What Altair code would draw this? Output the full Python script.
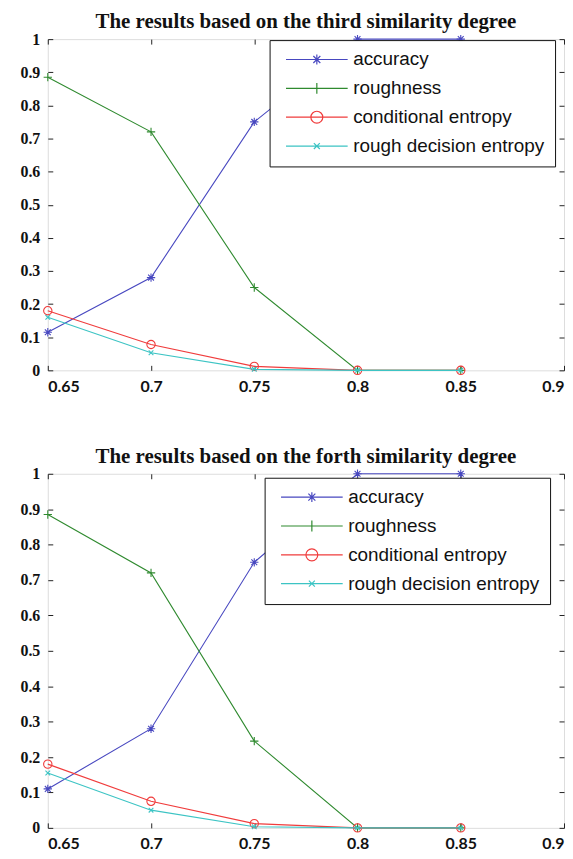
import altair as alt
import pandas as pd

# ---------------- data ----------------
x_vals = [0.65, 0.70, 0.75, 0.80, 0.85]
series = ["accuracy", "roughness", "conditional entropy", "rough decision entropy"]
colors = ["#4848c0", "#2f8a2f", "#f03c3c", "#3cc4c4"]

p1_accuracy = [0.115, 0.28, 0.75, 1.0, 1.0]
p1_roughness = [0.885, 0.72, 0.25, 0.0, 0.0]
p1_cond = [0.18, 0.078, 0.012, 0.0, 0.0]
p1_rde = [0.16, 0.053, 0.003, 0.0, 0.0]

p2_accuracy = [0.11, 0.28, 0.75, 1.0, 1.0]
p2_roughness = [0.885, 0.72, 0.245, 0.0, 0.0]
p2_cond = [0.18, 0.075, 0.012, 0.0, 0.0]
p2_rde = [0.155, 0.05, 0.003, 0.0, 0.0]

titles = ["The results based on the third similarity degree",
          "The results based on the forth similarity degree"]
x_ticks = [0.65, 0.7, 0.75, 0.8, 0.85, 0.9]
y_ticks = [0, 0.1, 0.2, 0.3, 0.4, 0.5, 0.6, 0.7, 0.8, 0.9, 1.0]

# marker shapes (unit square -1..1)
ASTER = "M0,-1L0,1M-1,0L1,0M-0.7,-0.7L0.7,0.7M-0.7,0.7L0.7,-0.7"
PLUS = "M0,-1L0,1M-1,0L1,0"
XMARK = "M-0.7,-0.7L0.7,0.7M-0.7,0.7L0.7,-0.7"
markers = [ASTER, PLUS, "circle", XMARK]
marker_sizes = [70, 70, 70, 45]

# legend symbols: line segment + marker (unit = 5px for symbolSize 100)
LEG_ASTER = "M-1,0L11.4,0M5.2,-1L5.2,1M4.5,-0.7L5.9,0.7M4.5,0.7L5.9,-0.7"
LEG_PLUS = "M-1,0L11.4,0M5.2,-1.1L5.2,1.1"
LEG_CIRC = "M-1,0L11.4,0M6.4,0A1.2,1.2 0 1,1 4,0A1.2,1.2 0 1,1 6.4,0"
LEG_X = "M-1,0L11.4,0M4.6,-0.6L5.8,0.6M4.6,0.6L5.8,-0.6"
legend_shapes = [LEG_ASTER, LEG_PLUS, LEG_CIRC, LEG_X]

X_DOMAIN = [0.65, 0.9]
Y_DOMAIN = [0, 1]


def make_df(vals):
    rows = []
    for s, v in zip(series, vals):
        for xx, yy in zip(x_vals, v):
            rows.append({"x": xx, "y": yy, "series": s})
    return pd.DataFrame(rows)


def xscale():
    return alt.Scale(domain=X_DOMAIN, nice=False, zero=False)


def yscale():
    return alt.Scale(domain=Y_DOMAIN, nice=False, zero=False)


label_x_axis = alt.Axis(values=x_ticks, format=".2~f", title=None, grid=False, domain=False,
                        ticks=False, labelFont="Lato", labelFontWeight="bold", labelFontSize=16,
                        labelColor="#111", labelPadding=8, labelFlush=True,
                        minExtent=0)
label_y_axis = alt.Axis(values=y_ticks, format=".1~f", title=None, grid=False, domain=False,
                        ticks=False, labelFont="Liberation Serif", labelFontWeight="bold",
                        labelFontSize=16, labelColor="#111", labelPadding=8, minExtent=0)


def tick_axis(vals, orient):
    return alt.Axis(values=vals, orient=orient, offset=-5, tickSize=5, ticks=True, labels=False,
                    domain=False, grid=False, title=None, tickColor="#222", tickWidth=1,
                    minExtent=0, maxExtent=0)


def panel(vals, title, height, lx, ly):
    df = make_df(vals)
    layers = []
    for i, s in enumerate(series):
        sub = df[df["series"] == s]
        if i == 0:
            xa, ya = label_x_axis, label_y_axis
            xa2, ya2 = tick_axis(x_ticks, "bottom"), tick_axis(y_ticks, "left")
        elif i == 1:
            xa, ya = tick_axis(x_ticks, "top"), tick_axis(y_ticks, "right")
            xa2, ya2 = None, None
        else:
            xa, ya, xa2, ya2 = None, None, None, None
        line = alt.Chart(sub).mark_line(color=colors[i], strokeWidth=1.1).encode(
            x=alt.X("x:Q", scale=xscale(), axis=xa),
            y=alt.Y("y:Q", scale=yscale(), axis=ya),
        )
        pts = alt.Chart(sub).mark_point(shape=markers[i], color=colors[i], filled=False,
                                        size=marker_sizes[i], strokeWidth=1.1, opacity=1).encode(
            x=alt.X("x:Q", scale=xscale(), axis=xa2),
            y=alt.Y("y:Q", scale=yscale(), axis=ya2),
        )
        layers += [line, pts]

    leg = dict(orient="none", legendX=lx, legendY=ly, title=None, labelFont="Liberation Sans",
               labelFontSize=19, labelColor="#111", labelLimit=400, symbolSize=100,
               symbolStrokeWidth=1.2, symbolOffset=2, labelOffset=53, rowPadding=9, padding=10,
               strokeColor="#111", fillColor="white", symbolFillColor="transparent")
    legend_layer = alt.Chart(df).mark_point(filled=False, strokeWidth=1.2, opacity=1).encode(
        x=alt.X("x:Q", scale=xscale(), axis=None),
        y=alt.Y("y:Q", scale=yscale(), axis=None),
        color=alt.Color("series:N", scale=alt.Scale(domain=series, range=colors),
                        legend=alt.Legend(**leg)),
        shape=alt.Shape("series:N", scale=alt.Scale(domain=series, range=legend_shapes),
                        legend=alt.Legend(**leg)),
    ).transform_filter("false")
    layers.append(legend_layer)

    return alt.layer(*layers).resolve_axis(x="independent", y="independent").properties(
        width=519, height=height,
        title=alt.TitleParams(text=title, font="Liberation Serif", fontSize=21, fontWeight="bold",
                              color="#111", offset=-18, baseline="alphabetic", anchor="middle"),
    )


top = panel([p1_accuracy, p1_roughness, p1_cond, p1_rde], titles[0], 333, 223, 1)
bottom = panel([p2_accuracy, p2_roughness, p2_cond, p2_rde], titles[1], 356, 218, 4)

chart = alt.vconcat(top, bottom, spacing=50).resolve_scale(
    color="independent", shape="independent"
).resolve_legend(color="independent", shape="independent").properties(
    padding={"left": 11, "top": 0, "right": 0, "bottom": 0}
).configure_view(stroke="#111", strokeWidth=1.2).configure(background="white")

chart.save("out.html", embed_options={"renderer": "svg", "actions": False})
